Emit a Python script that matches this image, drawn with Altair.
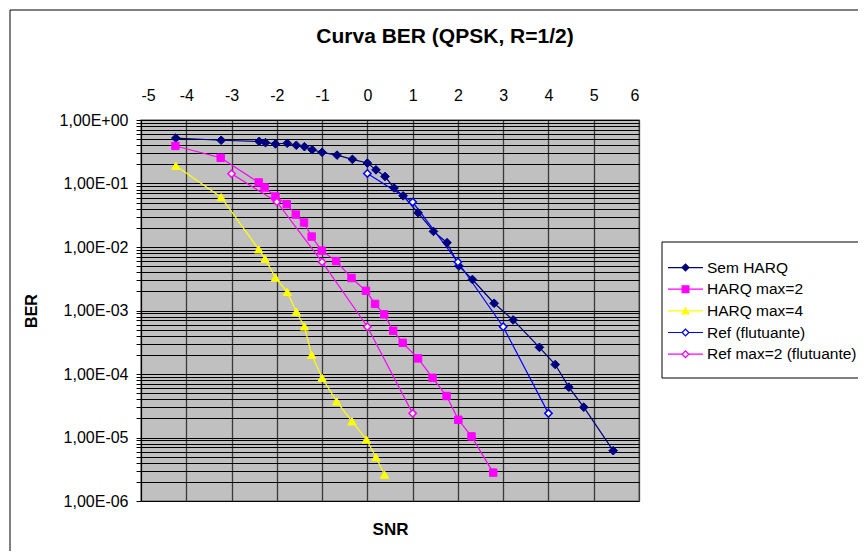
import altair as alt
import pandas as pd

# ---------------- data ----------------
series_names = ["Sem HARQ", "HARQ max=2", "HARQ max=4", "Ref (flutuante)", "Ref max=2 (flutuante)"]

sem_snr = [-4.23, -3.23, -2.39, -2.25, -2.03, -1.77, -1.57, -1.39, -1.22, -1.0, -0.67, -0.33, 0.0,
           0.19, 0.39, 0.59, 0.79, 1.12, 1.46, 1.76, 2.02, 2.32, 2.80, 3.22, 3.80, 4.15, 4.45, 4.78, 5.43]
sem_ber = [0.52, 0.48, 0.46, 0.44, 0.42, 0.43, 0.40, 0.38, 0.34, 0.31, 0.28, 0.24, 0.21,
           0.164, 0.129, 0.085, 0.064, 0.0345, 0.0176, 0.0117, 0.00503, 0.00308, 0.0013, 0.00071,
           0.000263, 0.000141, 6.2e-5, 3.0e-5, 6.2e-6]

h2_snr = [-4.24, -3.24, -2.40, -2.27, -2.03, -1.78, -1.58, -1.40, -1.23, -1.01, -0.69, -0.35, -0.03,
          0.17, 0.37, 0.57, 0.78, 1.12, 1.44, 1.75, 2.01, 2.30, 2.78]
h2_ber = [0.39, 0.254, 0.104, 0.0865, 0.0623, 0.0473, 0.0324, 0.0243, 0.0146, 0.00877, 0.0060, 0.00325,
          0.00204, 0.00127, 0.00087, 0.00048, 0.00031, 0.000176, 8.7e-5, 4.5e-5, 1.9e-5, 1.04e-5, 2.8e-6]

h4_snr = [-4.23, -3.23, -2.40, -2.26, -2.03, -1.77, -1.57, -1.39, -1.23, -1.0, -0.68, -0.34, -0.02, 0.19, 0.38]
h4_ber = [0.19, 0.061, 0.00916, 0.0065, 0.00329, 0.00196, 0.00096, 0.00056, 0.0002, 8.7e-5, 3.7e-5,
          1.8e-5, 9.3e-6, 4.9e-6, 2.6e-6]

ref_snr = [0, 1, 2, 3, 4]
ref_ber = [0.144, 0.051, 0.0058, 0.000555, 2.4e-5]

ref2_snr = [-3, -2, -1, 0, 1]
ref2_ber = [0.142, 0.0514, 0.00582, 0.000555, 2.4e-5]

x_ticks = list(range(-5, 7))
y_major = [1.0, 1e-1, 1e-2, 1e-3, 1e-4, 1e-5, 1e-6]
y_all = y_major + [k * 10.0 ** e for e in range(-6, 0) for k in range(2, 10)]

# ---------------- styling ----------------
line_colors = ["#000080", "#FF00FF", "#FFFF00", "#0000FF", "#FF00FF"]
fill_colors = ["#000080", "#FF00FF", "#FFFF00", "#FFFFFF", "#FFFFFF"]
marker_shapes = ["diamond", "square", "triangle-up", "diamond", "diamond"]

rows = []
for name, xs, ys in zip(series_names,
                        [sem_snr, h2_snr, h4_snr, ref_snr, ref2_snr],
                        [sem_ber, h2_ber, h4_ber, ref_ber, ref2_ber]):
    for i, (a, b) in enumerate(zip(xs, ys)):
        rows.append({"series": name, "SNR": a, "BER": b, "i": i})
df = pd.DataFrame(rows)
df_leg = pd.DataFrame({"series": series_names})

FONT = "Liberation Sans"
x_scale = alt.Scale(domain=[-5, 6], nice=False, zero=False)
y_scale = alt.Scale(type="log", domain=[1e-6, 1], nice=False)
stroke_scale = alt.Scale(domain=series_names, range=line_colors)

y_label_expr = ("abs(log(datum.value)/LN10 - round(log(datum.value)/LN10)) < 0.001 ? "
                "(datum.value > 0.5 ? '1,00E+00' : '1,00E-0' + round(-log(datum.value)/LN10)) : ''")
y_axis = alt.Axis(values=y_all, labelExpr=y_label_expr, grid=True, gridColor="#000000", gridWidth=1,
                  gridOpacity=1, ticks=True, tickSize=5, tickColor="#000000", domain=True,
                  domainColor="#000000", labelFont=FONT, labelFontSize=16, labelColor="#000000",
                  labelPadding=8, labelOverlap=False, title="BER", titleFont=FONT, titleFontSize=16,
                  titleFontWeight="bold", titleColor="#000000", titlePadding=20)
y_enc = alt.Y("BER:Q", scale=y_scale, axis=y_axis)

x_top_axis = alt.Axis(orient="top", values=x_ticks, labelExpr="'' + datum.value", grid=True,
                      gridColor="#3a3a3a", gridWidth=1.3, gridOpacity=1, ticks=False, domain=False,
                      labelFont=FONT, labelFontSize=16, labelColor="#000000", labelPadding=17,
                      title=None)
x_bottom_axis = alt.Axis(orient="bottom", labels=False, ticks=False, domain=False, grid=False,
                         title="SNR", titleFont=FONT, titleFontSize=17, titleFontWeight="bold",
                         titleColor="#000000", titlePadding=20)

base = alt.Chart(df)
frame_data = alt.Data(values=[{"k": 1}])

# outer chart frame (left and top edges visible in the reference)
frame_left = alt.Chart(frame_data).mark_rule(stroke="#000000", strokeWidth=1).encode(
    x=alt.value(-131), y=alt.value(-110), y2=alt.value(700))
frame_top = alt.Chart(frame_data).mark_rule(stroke="#000000", strokeWidth=1).encode(
    x=alt.value(-131), x2=alt.value(900), y=alt.value(-110))

lines = base.mark_line(strokeWidth=1.2).encode(
    x=alt.X("SNR:Q", scale=x_scale, axis=x_top_axis),
    y=y_enc,
    stroke=alt.Stroke("series:N", scale=stroke_scale, legend=None),
    order="i:Q",
)

point_styles = [
    dict(shape="diamond", filled=True, fill="#000080", stroke="#000080", strokeWidth=1, size=75, opacity=1),
    dict(shape="square", filled=True, fill="#FF00FF", stroke="#FF00FF", strokeWidth=1, size=55, opacity=1),
    dict(shape="triangle-up", filled=True, fill="#FFFF00", stroke="#FFFF00", strokeWidth=1, size=70, opacity=1),
    dict(shape="diamond", filled=True, fill="#FFFFFF", stroke="#0000FF", strokeWidth=1.5, size=55, opacity=1),
    dict(shape="diamond", filled=True, fill="#FFFFFF", stroke="#FF00FF", strokeWidth=1.5, size=55, opacity=1),
]

point_layers = []
for k, (name, st) in enumerate(zip(series_names, point_styles)):
    ax = x_bottom_axis if k == 0 else None
    point_layers.append(
        base.transform_filter(alt.datum.series == name).mark_point(**st).encode(
            x=alt.X("SNR:Q", scale=x_scale, axis=ax),
            y=y_enc,
        )
    )

main = alt.layer(frame_left, frame_top, lines, *point_layers).resolve_axis(x="independent")

# ---------------- legend (drawn with marks, rows placed by a point scale) ----------------
leg_base = alt.Chart(df_leg)
leg_y = alt.Y("series:N", sort=series_names,
              scale=alt.Scale(domain=series_names, range=[136.7, 245], padding=0), axis=None)

leg_box = alt.Chart(frame_data).mark_rect(fill="#FFFFFF", stroke="#000000", strokeWidth=1).encode(
    x=alt.value(521), x2=alt.value(760), y=alt.value(122), y2=alt.value(258))
leg_lines = leg_base.mark_rule(strokeWidth=1.2).encode(
    x=alt.value(527), x2=alt.value(562), y=leg_y,
    stroke=alt.Stroke("series:N", scale=stroke_scale, legend=None),
)
leg_points = leg_base.mark_point(filled=True, size=45, strokeWidth=1.3, opacity=1).encode(
    x=alt.value(544.5), y=leg_y,
    shape=alt.Shape("series:N", scale=alt.Scale(domain=series_names, range=marker_shapes), legend=None),
    fill=alt.Fill("series:N", scale=alt.Scale(domain=series_names, range=fill_colors), legend=None),
    stroke=alt.Stroke("series:N", scale=stroke_scale, legend=None),
)
leg_text = leg_base.mark_text(align="left", baseline="middle", font=FONT, fontSize=15.5,
                              color="#000000").encode(
    x=alt.value(566), y=leg_y, text="series:N")

legend_part = alt.layer(leg_box, leg_lines, leg_points, leg_text)

chart = alt.layer(main, legend_part).resolve_scale(y="independent").properties(
    width=498,
    height=381,
    autosize=alt.AutoSizeParams(type="none"),
    padding={"left": 133, "top": 112, "right": 219, "bottom": 50},
    title=alt.TitleParams("Curva BER (QPSK, R=1/2)", font=FONT, fontSize=21, fontWeight="bold",
                          color="#000000", anchor="middle", frame="group", dx=55, dy=37, offset=0),
    background="#FFFFFF",
).configure_view(
    fill="#C0C0C0", stroke="#808080", strokeWidth=1.5
)

chart.save("out.html", embed_options={"renderer": "svg", "actions": False})
